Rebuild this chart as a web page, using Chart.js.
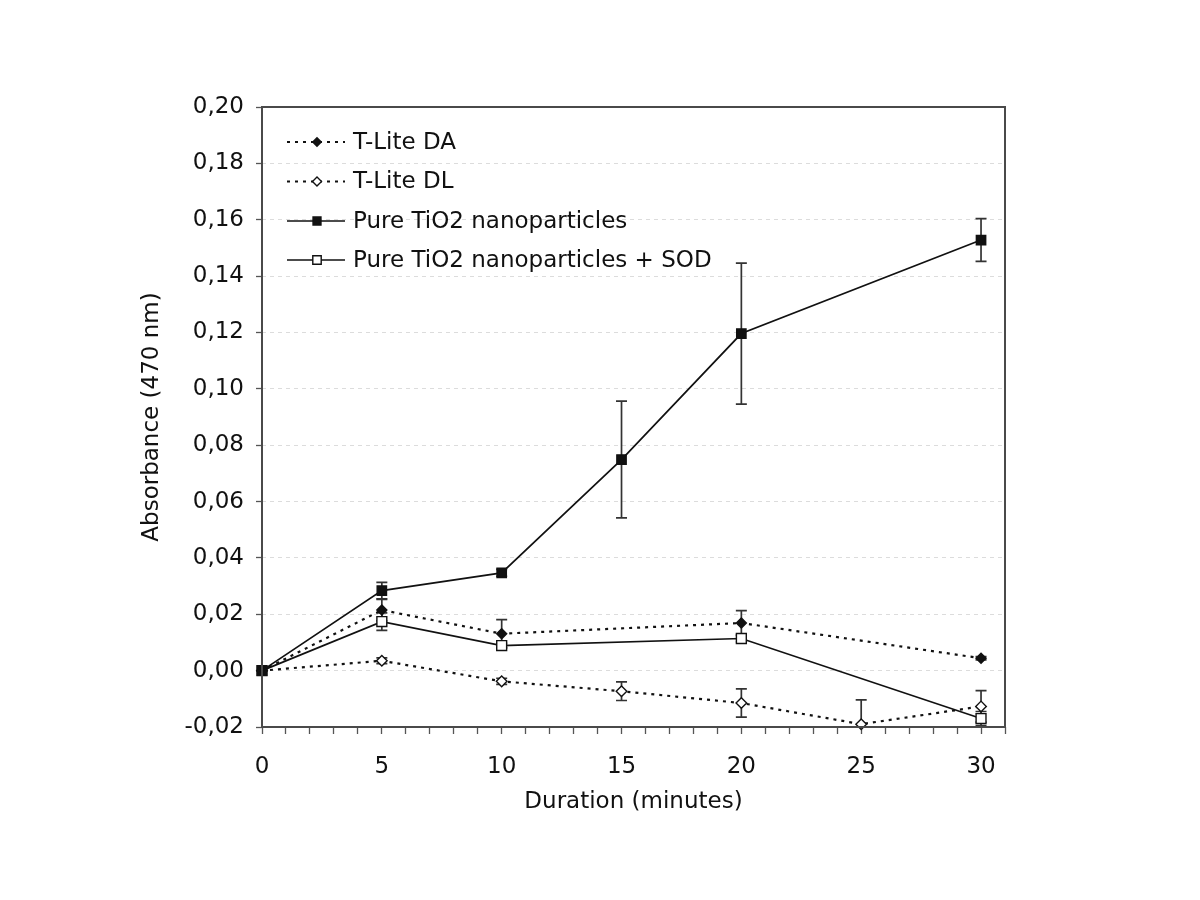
<!DOCTYPE html>
<html>
<head>
<meta charset="utf-8">
<script src="https://cdn.jsdelivr.net/npm/chart.js@4/dist/chart.umd.min.js"></script>
<style>
  html, body { margin: 0; padding: 0; background: #fff; }
  #wrap { width: 1200px; height: 900px; }
</style>
</head>
<body>
<div id="wrap"><canvas id="c"></canvas></div>
<script>
// ---- data ----
const durations   = [0, 5, 10, 15, 20, 25, 30];
const tliteDA     = [0, 0.0215, 0.0131, null, 0.0169, null, 0.0044];
const tliteDAErr  = [0, 0.0038, 0.0050, null, 0.0044, null, 0.0006];
const tliteDL     = [0, 0.0035, -0.0038, -0.0073, -0.0115, -0.0190, -0.0127];
const tliteDLErr  = [0, 0.0010, 0.0011, 0.0033, 0.0050, 0.0086, 0.0056];
const tio2        = [0, 0.0284, 0.0347, 0.0749, 0.1196, null, 0.1528];
const tio2Err     = [0, 0.0029, 0.0012, 0.0207, 0.0250, null, 0.0076];
const tio2Sod     = [0, 0.0174, 0.0089, null, 0.0114, null, -0.0170];
const tio2SodErr  = [0, 0.0031, 0.0008, null, 0.0012, null, 0.0025];
const seriesNames = ['T-Lite DA', 'T-Lite DL', 'Pure TiO2 nanoparticles', 'Pure TiO2 nanoparticles + SOD'];
const xTickLabels = ['0', '5', '10', '15', '20', '25', '30'];

const FONT = 'DejaVu Sans';
const FS = 23;
const INK = '#111';

function pts(vals) {
  return durations.map((d, i) => ({ x: d, y: vals[i] })).filter(p => p.y !== null);
}
function errs(vals, e) {
  return durations.map((d, i) => ({ v: vals[i], e: e[i] })).filter(p => p.v !== null).map(p => p.e);
}

const styles = [
  { dash: [3, 5], width: 2.2, pointStyle: 'rectRot', radius: 5, fill: INK },
  { dash: [3, 5], width: 2.2, pointStyle: 'rectRot', radius: 5.3, fill: '#fff' },
  { dash: [], width: 1.7, pointStyle: 'rect', radius: 6.6, fill: INK },
  { dash: [], width: 1.7, pointStyle: 'rect', radius: 7, fill: '#fff' }
];
const valueSets = [tliteDA, tliteDL, tio2, tio2Sod];
const errSets = [tliteDAErr, tliteDLErr, tio2Err, tio2SodErr];

const datasets = valueSets.map((vals, k) => ({
  label: seriesNames[k],
  data: pts(vals),
  errors: errs(vals, errSets[k]),
  borderColor: INK,
  borderWidth: styles[k].width,
  borderDash: styles[k].dash,
  pointStyle: styles[k].pointStyle,
  pointRadius: styles[k].radius,
  pointHoverRadius: styles[k].radius,
  pointBackgroundColor: styles[k].fill,
  pointBorderColor: INK,
  pointBorderWidth: 1.4,
  fill: false,
  tension: 0,
  spanGaps: true,
  clip: false
}));

// error bars drawn through the chart's own scales
const errorBars = {
  id: 'errorBars',
  beforeDatasetsDraw(chart) {
    const { ctx, chartArea, scales } = chart;
    ctx.save();
    ctx.beginPath();
    ctx.rect(chartArea.left, chartArea.top - 2, chartArea.right - chartArea.left, chartArea.bottom - chartArea.top + 3);
    ctx.clip();
    ctx.strokeStyle = '#333';
    ctx.lineWidth = 1.7;
    ctx.setLineDash([]);
    chart.data.datasets.forEach(ds => {
      ds.data.forEach((p, i) => {
        const e = ds.errors[i];
        if (!e) return;
        const x = scales.x.getPixelForValue(p.x);
        const y1 = scales.y.getPixelForValue(p.y + e);
        const y2 = scales.y.getPixelForValue(p.y - e);
        const cap = 5.5;
        ctx.beginPath();
        ctx.moveTo(x, y1); ctx.lineTo(x, y2);
        ctx.moveTo(x - cap, y1); ctx.lineTo(x + cap, y1);
        ctx.moveTo(x - cap, y2); ctx.lineTo(x + cap, y2);
        ctx.stroke();
      });
    });
    ctx.restore();
  }
};

function drawMarker(ctx, style, x, y, scale) {
  ctx.save();
  ctx.setLineDash([]);
  ctx.fillStyle = style.fill;
  ctx.strokeStyle = INK;
  ctx.lineWidth = 1.4;
  ctx.beginPath();
  const rad = style.radius * scale;
  if (style.pointStyle === 'rect') {
    const s = Math.SQRT1_2 * rad;
    ctx.rect(x - s, y - s, 2 * s, 2 * s);
  } else {
    ctx.moveTo(x - rad, y); ctx.lineTo(x, y - rad); ctx.lineTo(x + rad, y); ctx.lineTo(x, y + rad); ctx.closePath();
  }
  ctx.fill();
  ctx.stroke();
  ctx.restore();
}

const frameAndLegend = {
  id: 'frameAndLegend',
  afterDraw(chart) {
    const { ctx, chartArea } = chart;
    ctx.save();
    ctx.strokeStyle = '#4a4a4a';
    ctx.lineWidth = 2;
    ctx.setLineDash([]);
    ctx.strokeRect(chartArea.left, chartArea.top, chartArea.right - chartArea.left, chartArea.bottom - chartArea.top);

    // legend inside the plot, top-left
    const x0 = chartArea.left + 25, x1 = chartArea.left + 83, xm = chartArea.left + 55, xt = chartArea.left + 91;
    const rowY = [chartArea.top + 35, chartArea.top + 74.5, chartArea.top + 114, chartArea.top + 153];
    ctx.font = FS + 'px "' + FONT + '"';
    ctx.textBaseline = 'middle';
    ctx.textAlign = 'left';
    seriesNames.forEach((name, k) => {
      const y = rowY[k];
      ctx.strokeStyle = INK;
      ctx.lineWidth = styles[k].width;
      ctx.setLineDash(styles[k].dash);
      ctx.beginPath(); ctx.moveTo(x0, y); ctx.lineTo(x1, y); ctx.stroke();
      drawMarker(ctx, styles[k], xm, y, 0.85);
      ctx.fillStyle = INK;
      ctx.fillText(name, xt, y + 1);
    });
    ctx.restore();
  }
};

new Chart(document.getElementById('c'), {
  type: 'line',
  data: { datasets },
  plugins: [errorBars, frameAndLegend],
  options: {
    responsive: true,
    maintainAspectRatio: false,
    animation: false,
    layout: { padding: { left: 134, right: 195, top: 107, bottom: 80 } },
    plugins: { legend: { display: false }, tooltip: { enabled: false } },
    scales: {
      x: {
        type: 'linear',
        min: 0, max: 31,
        afterFit(scale) { scale.height = 93; },
        ticks: {
          stepSize: 1, autoSkip: false, maxRotation: 0, padding: 19,
          color: INK, font: { family: FONT, size: FS },
          callback(v) { const i = durations.indexOf(v); return i >= 0 ? xTickLabels[i] : ''; }
        },
        grid: { drawOnChartArea: false, drawTicks: true, tickLength: 7, tickColor: '#555', tickWidth: 1.3, tickBorderDash: [] },
        border: { display: false },
        title: { display: true, text: 'Duration (minutes)', color: INK, font: { family: FONT, size: FS }, padding: { top: 4, bottom: 4 } }
      },
      y: {
        min: -0.02, max: 0.20,
        afterFit(scale) { scale.width = 128; },
        ticks: {
          stepSize: 0.02, padding: 12, color: INK, font: { family: FONT, size: FS },
          callback(v) { return v.toFixed(2).replace('.', ','); }
        },
        grid: { color: '#dcdcdc', lineWidth: 1, borderDash: [4, 4], tickLength: 6, tickColor: '#555', tickWidth: 1.3, tickBorderDash: [] },
        border: { display: false, dash: [4, 4] },
        title: { display: true, text: 'Absorbance (470 nm)', color: INK, font: { family: FONT, size: FS }, padding: { top: 4, bottom: 4 } }
      }
    }
  }
});
</script>
</body>
</html>
